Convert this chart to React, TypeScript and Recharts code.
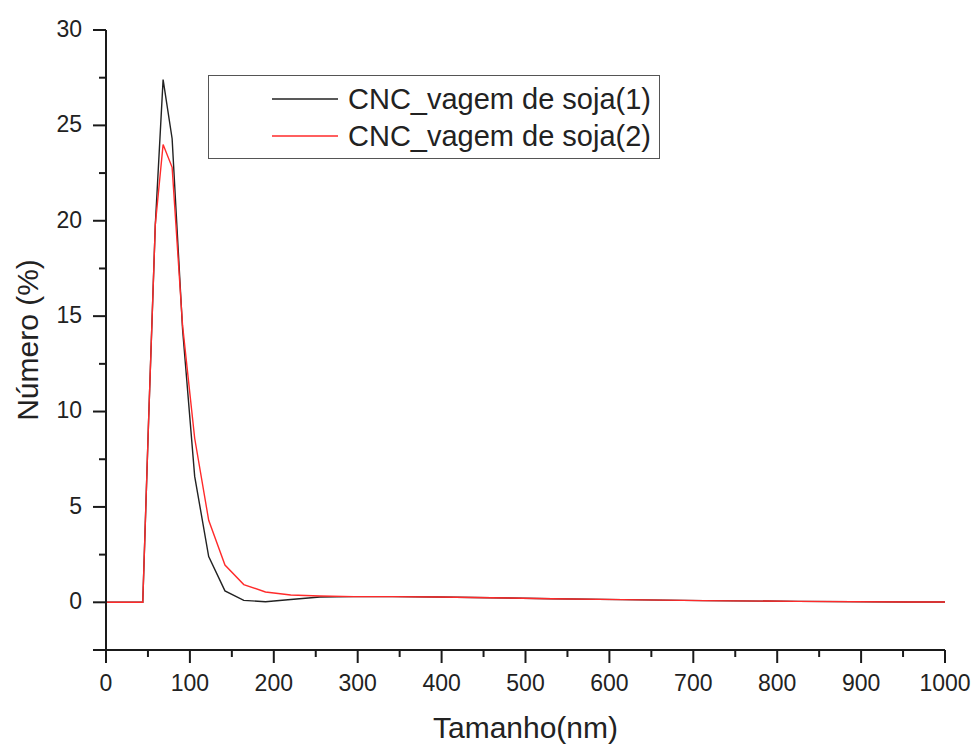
import { LineChart, Line, XAxis, YAxis, Legend } from 'recharts';

// Tamanho (nm) – size bins
const sizes = [0.4, 37.84, 43.82, 50.75, 58.77, 68.06, 78.82, 91.28, 105.7, 122.4, 141.8, 164.2, 190.1, 220.2, 255, 295.3, 342, 396.1, 458.7, 531.2, 615.1, 712.4, 825, 955.4, 1106];
// Número (%)
const soja1 = [0, 0, 0, 9.5, 19.8, 27.4, 24.3, 14.3, 6.6, 2.4, 0.6, 0.1, 0.03, 0.15, 0.28, 0.3, 0.3, 0.28, 0.24, 0.19, 0.14, 0.09, 0.05, 0.02, 0.01];
const soja2 = [0, 0, 0, 9.5, 19.8, 24.0, 22.8, 14.5, 8.6, 4.3, 1.95, 0.93, 0.54, 0.38, 0.33, 0.3, 0.3, 0.28, 0.24, 0.19, 0.14, 0.09, 0.05, 0.02, 0.01];

const xMajor = [0, 100, 200, 300, 400, 500, 600, 700, 800, 900, 1000];
const xMinor = [50, 150, 250, 350, 450, 550, 650, 750, 850, 950];
const yMajor = [0, 5, 10, 15, 20, 25, 30];
const yMinor = [-2.5, 2.5, 7.5, 12.5, 17.5, 22.5, 27.5];

const data = sizes.map((s, i) => ({ size: s, a: soja1[i], b: soja2[i] }));

const FONT = '"Liberation Sans", Arial, sans-serif';
const AXIS = '#1a1a1a';

const XTick = (props: any) => {
  const { x, y, payload } = props;
  const major = xMajor.includes(payload.value);
  return (
    <g>
      <line x1={x} x2={x} y1={y} y2={y + (major ? 13 : 7)} stroke={AXIS} strokeWidth={2} />
      {major && (
        <text x={x} y={y + 41} textAnchor="middle" fontSize={23} fontFamily={FONT} fill="#222">
          {payload.value}
        </text>
      )}
    </g>
  );
};

const YTick = (props: any) => {
  const { x, y, payload } = props;
  const label = yMajor.includes(payload.value);
  const major = label || payload.value === -2.5;
  return (
    <g>
      <line x1={x} x2={x - (major ? 13 : 7)} y1={y} y2={y} stroke={AXIS} strokeWidth={2} />
      {label && (
        <text x={x - 24} y={y} dy="0.3em" textAnchor="end" fontSize={23} fontFamily={FONT} fill="#222">
          {payload.value}
        </text>
      )}
    </g>
  );
};

const renderLegend = (props: any) => {
  const items = props.payload || [];
  return (
    <div
      style={{
        position: 'relative',
        width: 452,
        height: 84,
        boxSizing: 'border-box',
        border: '1.5px solid #555',
        background: '#fff',
        fontFamily: FONT,
        fontSize: 29,
        color: '#222',
      }}
    >
      {items.map((it: any, i: number) => (
        <div key={i} style={{ position: 'absolute', left: 63, top: 5 + i * 37, height: 36, display: 'flex', alignItems: 'center' }}>
          <svg width={66} height={4} style={{ marginRight: 10 }}>
            <line x1={0} x2={66} y1={2} y2={2} stroke={it.color} strokeWidth={1.5} />
          </svg>
          <span style={{ lineHeight: '36px', whiteSpace: 'nowrap' }}>{it.value}</span>
        </div>
      ))}
    </div>
  );
};

export default function App() {
  return (
    <div style={{ position: 'absolute', left: 0, top: 0, width: 975, height: 745, background: '#fff' }}>
      <LineChart width={975} height={745} data={data} margin={{ top: 30, right: 30, left: 46, bottom: 45 }}>
        <XAxis
          xAxisId="top"
          orientation="top"
          type="number"
          dataKey="size"
          domain={[0, 1000]}
          allowDataOverflow
          height={0}
          tick={false}
          tickLine={false}
          axisLine={{ stroke: AXIS, strokeWidth: 2 }}
        />
        <XAxis
          type="number"
          dataKey="size"
          domain={[0, 1000]}
          allowDataOverflow
          ticks={[...xMajor, ...xMinor].sort((p, q) => p - q)}
          interval={0}
          height={50}
          tickSize={0}
          tickMargin={0}
          tickLine={false}
          tick={<XTick />}
          axisLine={{ stroke: AXIS, strokeWidth: 2 }}
          label={{
            content: (p: any) => (
              <text
                x={p.viewBox.x + p.viewBox.width / 2}
                y={p.viewBox.y + 88}
                textAnchor="middle"
                fontSize={30}
                fontFamily={FONT}
                fill="#222"
              >
                Tamanho(nm)
              </text>
            ),
          }}
        />
        <YAxis
          yAxisId="right"
          orientation="right"
          type="number"
          domain={[-2.5, 30]}
          allowDataOverflow
          width={0}
          tick={false}
          tickLine={false}
          axisLine={{ stroke: AXIS, strokeWidth: 2 }}
        />
        <YAxis
          type="number"
          domain={[-2.5, 30]}
          allowDataOverflow
          ticks={[...yMajor, ...yMinor].sort((p, q) => p - q)}
          interval={0}
          width={60}
          tickSize={0}
          tickMargin={0}
          tickLine={false}
          tick={<YTick />}
          axisLine={{ stroke: AXIS, strokeWidth: 2 }}
          label={{
            content: (p: any) => {
              const cx = 27;
              const cy = p.viewBox.y + p.viewBox.height / 2;
              return (
                <text
                  x={cx}
                  y={cy}
                  transform={`rotate(-90 ${cx} ${cy})`}
                  textAnchor="middle"
                  dominantBaseline="central"
                  fontSize={30}
                  fontFamily={FONT}
                  fill="#222"
                >
                  Número (%)
                </text>
              );
            },
          }}
        />
        <Legend
          layout="horizontal"
          verticalAlign="middle"
          align="center"
          content={renderLegend}
          wrapperStyle={{ position: 'absolute', left: 208, top: 75, width: 452, height: 84 }}
        />
        <Line
          type="linear"
          dataKey="a"
          name="CNC_vagem de soja(1)"
          stroke="#222222"
          strokeWidth={1.4}
          dot={false}
          isAnimationActive={false}
        />
        <Line
          type="linear"
          dataKey="b"
          name="CNC_vagem de soja(2)"
          stroke="#ff2a2a"
          strokeWidth={1.4}
          dot={false}
          isAnimationActive={false}
        />
      </LineChart>
    </div>
  );
}
